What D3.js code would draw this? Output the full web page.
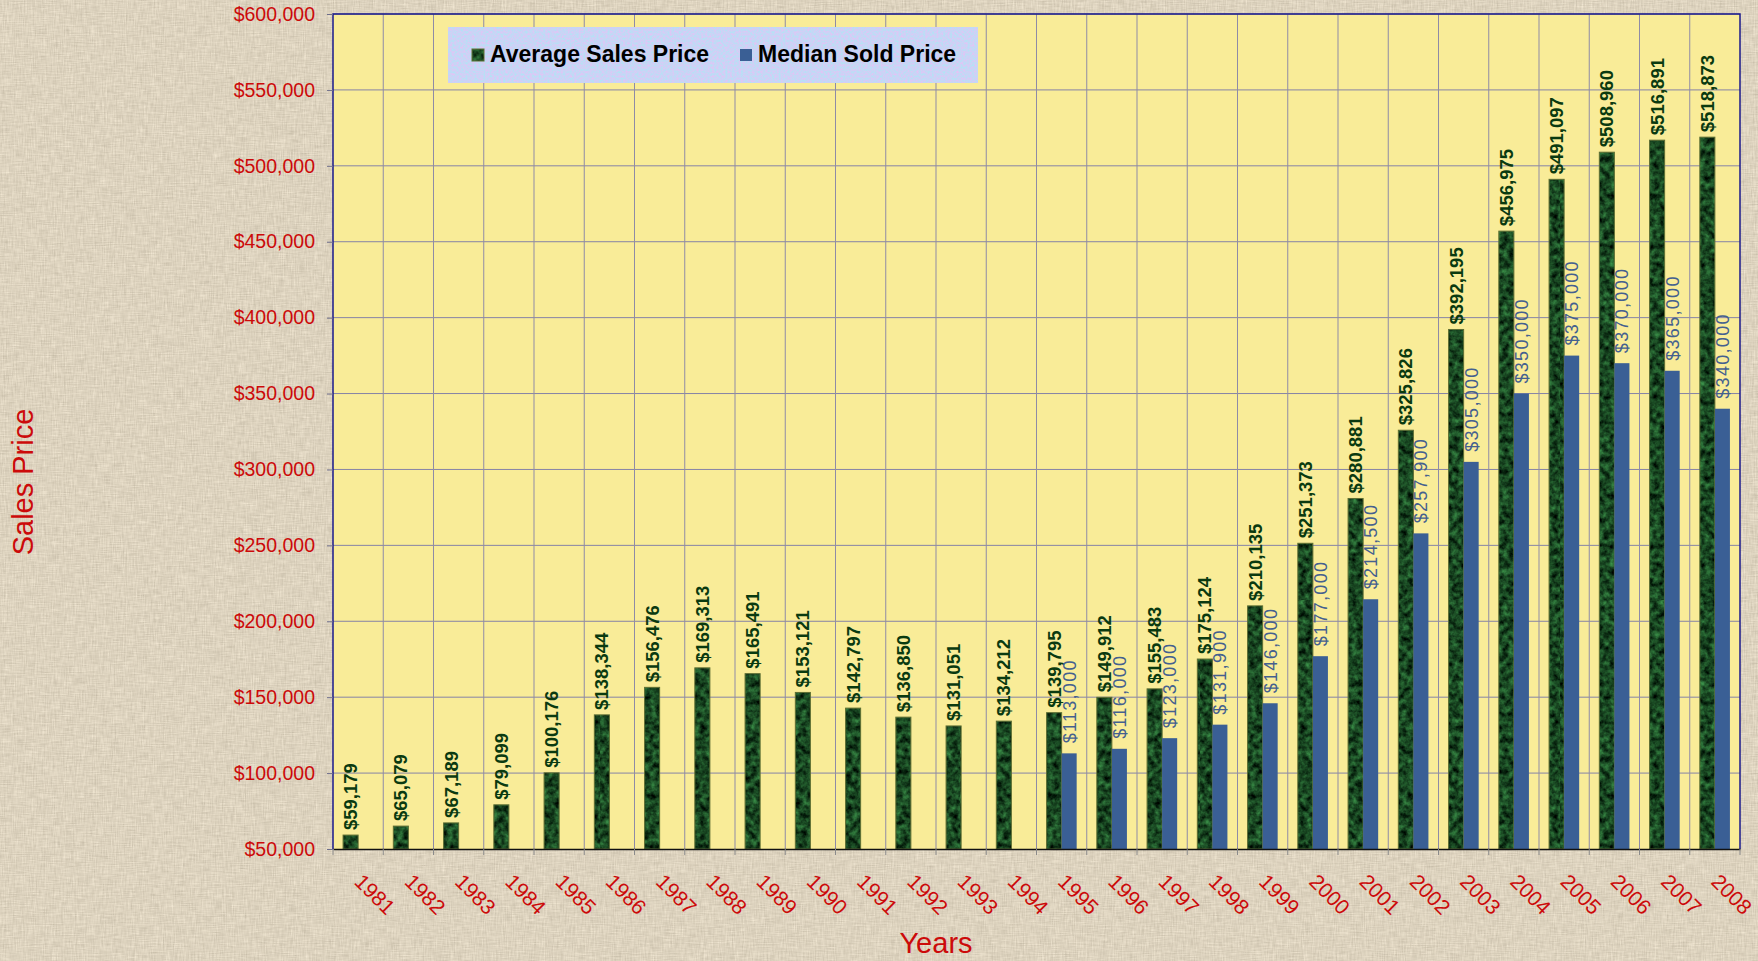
<!DOCTYPE html>
<html>
<head>
<meta charset="utf-8">
<script src="https://cdn.jsdelivr.net/npm/d3@7"></script>
<style>
  html, body { margin: 0; padding: 0; background: #ddd3bf; }
  svg { display: block; font-family: Arial, "Liberation Sans", sans-serif; }
</style>
</head>
<body>
<svg id="chart" width="1758" height="961"></svg>
<script>
// values
const years = ['1981','1982','1983','1984','1985','1986','1987','1988','1989','1990','1991','1992','1993','1994',
               '1995','1996','1997','1998','1999','2000','2001','2002','2003','2004','2005','2006','2007','2008']
const averageSalesPrice = [59179, 65079, 67189, 79099, 100176, 138344, 156476, 169313, 165491, 153121, 142797, 136850, 131051, 134212,
                           139795, 149912, 155483, 175124, 210135, 251373, 280881, 325826, 392195, 456975, 491097, 508960, 516891, 518873]
const medianSoldPrice = [null, null, null, null, null, null, null, null, null, null, null, null, null, null,
                         113000, 116000, 123000, 131900, 146000, 177000, 214500, 257900, 305000, 350000, 375000, 370000, 365000, 340000]
const yTicks = [50000, 100000, 150000, 200000, 250000, 300000, 350000, 400000, 450000, 500000, 550000, 600000]
const seriesNames = ['Average Sales Price', 'Median Sold Price']

const config = { left: 333, right: 1740, top: 14, bottom: 849 }
const fmt = d => '$' + d3.format(',')(d)

const svg = d3.select('#chart')

/**
 * textures : marble green, linen background, legend paper
 */
function appendDefs(svg){
    const defs = svg.append('defs')

    const fMarble = defs.append('filter').attr('id', 'fMarble')
        .attr('x', 0).attr('y', 0).attr('width', 1).attr('height', 1)
        .attr('color-interpolation-filters', 'sRGB')
    fMarble.append('feTurbulence').attr('type', 'fractalNoise')
        .attr('baseFrequency', '0.16').attr('numOctaves', 3).attr('seed', 7)
    fMarble.append('feColorMatrix').attr('type', 'matrix')
        .attr('values', '0.35 0 0 0 -0.08  0.75 0 0 0 -0.1  0.4 0 0 0 -0.07  0 0 0 0 1')
    defs.append('pattern').attr('id', 'pMarble')
        .attr('patternUnits', 'userSpaceOnUse').attr('width', 120).attr('height', 300)
        .append('rect').attr('width', 120).attr('height', 300).attr('filter', 'url(#fMarble)')

    const fLinen = defs.append('filter').attr('id', 'fLinen')
        .attr('x', 0).attr('y', 0).attr('width', 1).attr('height', 1)
        .attr('color-interpolation-filters', 'sRGB')
    fLinen.append('feTurbulence').attr('type', 'fractalNoise')
        .attr('baseFrequency', '0.9 0.08').attr('numOctaves', 2).attr('seed', 2).attr('result', 'a')
    fLinen.append('feTurbulence').attr('type', 'fractalNoise')
        .attr('baseFrequency', '0.08 0.9').attr('numOctaves', 2).attr('seed', 5).attr('result', 'b')
    fLinen.append('feComposite').attr('in', 'a').attr('in2', 'b')
        .attr('operator', 'arithmetic').attr('k2', 0.5).attr('k3', 0.5).attr('result', 'c')
    fLinen.append('feColorMatrix').attr('in', 'c').attr('type', 'matrix')
        .attr('values', '0.25 0 0 0 0.74  0.25 0 0 0 0.70  0.25 0 0 0 0.62  0 0 0 0 1')
    defs.append('pattern').attr('id', 'pLinen')
        .attr('patternUnits', 'userSpaceOnUse').attr('width', 1758).attr('height', 961)
        .append('rect').attr('width', 1758).attr('height', 961).attr('filter', 'url(#fLinen)')

    const fPaper = defs.append('filter').attr('id', 'fPaper')
        .attr('x', 0).attr('y', 0).attr('width', 1).attr('height', 1)
        .attr('color-interpolation-filters', 'sRGB')
    fPaper.append('feTurbulence').attr('type', 'fractalNoise')
        .attr('baseFrequency', '0.45').attr('numOctaves', 2).attr('seed', 11)
    fPaper.append('feColorMatrix').attr('type', 'matrix')
        .attr('values', '0.3 0 0 0 0.64  -0.2 0 0 0 0.93  0 0 0 0 0.96  0 0 0 0 1')
    defs.append('pattern').attr('id', 'pPaper')
        .attr('patternUnits', 'userSpaceOnUse').attr('width', 600).attr('height', 100)
        .append('rect').attr('width', 600).attr('height', 100).attr('filter', 'url(#fPaper)')
}

function drawChart(svg){
    svg.append('rect').attr('width', 1758).attr('height', 961).attr('fill', 'url(#pLinen)')

    const x = d3.scaleBand()
        .domain(years)
        .range([config.left, config.right])
        .padding(0)

    const x1 = d3.scaleBand()
        .domain(['avg', 'med'])
        .range([0, x.bandwidth()])
        .paddingInner(0)
        .paddingOuter(0.67)

    const y = d3.scaleLinear()
        .domain([50000, 600000])
        .range([config.bottom, config.top])

    // plot background
    svg.append('rect')
        .attr('x', config.left).attr('y', config.top)
        .attr('width', config.right - config.left).attr('height', config.bottom - config.top)
        .attr('fill', '#f9ec98')

    // grid
    svg.append('g').attr('id', 'gridY')
        .selectAll('line').data(yTicks.slice(1)).enter().append('line')
        .attr('x1', config.left).attr('x2', config.right)
        .attr('y1', d => y(d)).attr('y2', d => y(d))
        .attr('stroke', '#8683a6').attr('stroke-width', 1)
    svg.append('g').attr('id', 'gridX')
        .selectAll('line').data(years.slice(1)).enter().append('line')
        .attr('x1', d => x(d)).attr('x2', d => x(d))
        .attr('y1', config.top).attr('y2', config.bottom)
        .attr('stroke', '#8f8ba6').attr('stroke-width', 1)

    // plot border
    svg.append('path')
        .attr('d', `M${config.left},${config.bottom}V${config.top}H${config.right}V${config.bottom}`)
        .attr('fill', 'none').attr('stroke', '#1a1a8c').attr('stroke-width', 1.5)

    // average bars
    svg.append('g').attr('id', 'barsAvg')
        .selectAll('rect').data(years).enter().append('rect')
        .attr('x', (d) => x(d) + x1('avg'))
        .attr('width', x1.bandwidth())
        .attr('y', (d, i) => y(averageSalesPrice[i]))
        .attr('height', (d, i) => y(50000) - y(averageSalesPrice[i]))
        .attr('fill', 'url(#pMarble)')
        .attr('stroke', '#5d6e33').attr('stroke-width', 1)

    // median bars
    const medData = years.map((d, i) => ({ year: d, value: medianSoldPrice[i] })).filter(d => d.value !== null)
    svg.append('g').attr('id', 'barsMed')
        .selectAll('rect').data(medData).enter().append('rect')
        .attr('x', d => x(d.year) + x1('med'))
        .attr('width', x1.bandwidth())
        .attr('y', d => y(d.value))
        .attr('height', d => y(50000) - y(d.value))
        .attr('fill', '#3a5f95')

    // labels
    svg.append('g').attr('id', 'labelsAvg')
        .selectAll('text').data(years).enter().append('text')
        .attr('transform', (d, i) => `translate(${x(d) + x1('avg') + x1.bandwidth() / 2 + 6.5},${y(averageSalesPrice[i]) - 5}) rotate(-90)`)
        .attr('font-size', 18.5).attr('font-weight', 'bold').attr('fill', '#0a3a10')
        .text((d, i) => fmt(averageSalesPrice[i]))

    svg.append('g').attr('id', 'labelsMed')
        .selectAll('text').data(medData).enter().append('text')
        .attr('transform', d => `translate(${x(d.year) + x1('med') + x1.bandwidth() / 2 + 6.5},${y(d.value) - 10}) rotate(-90)`)
        .attr('font-size', 18).attr('letter-spacing', 1.3).attr('fill', '#44608f')
        .text(d => fmt(d.value))

    // y axis
    const yAxis = svg.append('g').attr('id', 'yAxis')
        .attr('transform', `translate(${config.left},0)`)
        .call(d3.axisLeft(y).tickValues(yTicks).tickFormat(fmt).tickSize(6).tickPadding(12))
    yAxis.select('.domain').remove()
    yAxis.selectAll('line').attr('stroke', '#6d6d8a')
    yAxis.selectAll('text').attr('font-size', 19.5).attr('fill', '#cc0a0a')
        .attr('font-family', 'Arial, "Liberation Sans", sans-serif')

    // x axis
    const xAxis = svg.append('g').attr('id', 'xAxis')
        .attr('transform', `translate(0,${config.bottom})`)
        .call(d3.axisBottom(x).tickSize(0).tickFormat(''))
    xAxis.select('.domain').attr('stroke', '#111').attr('stroke-width', 1.5)
    svg.append('g').attr('id', 'xTicks')
        .selectAll('line').data(years).enter().append('line')
        .attr('x1', d => x(d) + x.bandwidth()).attr('x2', d => x(d) + x.bandwidth())
        .attr('y1', config.bottom).attr('y2', config.bottom + 6)
        .attr('stroke', '#8a8a8a')
    svg.append('line')
        .attr('x1', config.left).attr('x2', config.left)
        .attr('y1', config.bottom).attr('y2', config.bottom + 6).attr('stroke', '#8a8a8a')
    svg.append('g').attr('id', 'xLabels')
        .selectAll('text').data(years).enter().append('text')
        .attr('transform', d => `translate(${x(d) + x.bandwidth() / 2 - 5},883) rotate(45)`)
        .attr('font-size', 21).attr('fill', '#cc0a0a')
        .text(d => d)

    // axis titles
    svg.append('text')
        .attr('x', 936).attr('y', 953)
        .attr('text-anchor', 'middle').attr('font-size', 29).attr('fill', '#cc0a0a')
        .text('Years')
    svg.append('text')
        .attr('transform', 'translate(33,482) rotate(-90)')
        .attr('text-anchor', 'middle').attr('font-size', 29).attr('fill', '#cc0a0a')
        .text('Sales Price')
}

function drawLegend(svg){
    const g = svg.append('g').attr('id', 'legend').attr('transform', 'translate(448,27)')
    g.append('rect').attr('width', 530).attr('height', 56).attr('fill', 'url(#pPaper)')
    const fills = ['url(#pMarble)', '#3a5f95']
    const offsets = [24, 292]
    const items = g.selectAll('.item').data(seriesNames).enter().append('g')
        .attr('class', 'item')
        .attr('transform', (d, i) => `translate(${offsets[i]},22)`)
    items.append('rect')
        .attr('width', 12).attr('height', 12)
        .attr('fill', (d, i) => fills[i])
        .attr('stroke', (d, i) => i === 0 ? '#5d6e33' : 'none')
    items.append('text')
        .attr('x', 18).attr('y', 13)
        .attr('font-size', 23).attr('font-weight', 'bold').attr('fill', '#000')
        .text(d => d)
}

appendDefs(svg)
drawChart(svg)
drawLegend(svg)
</script>
</body>
</html>
